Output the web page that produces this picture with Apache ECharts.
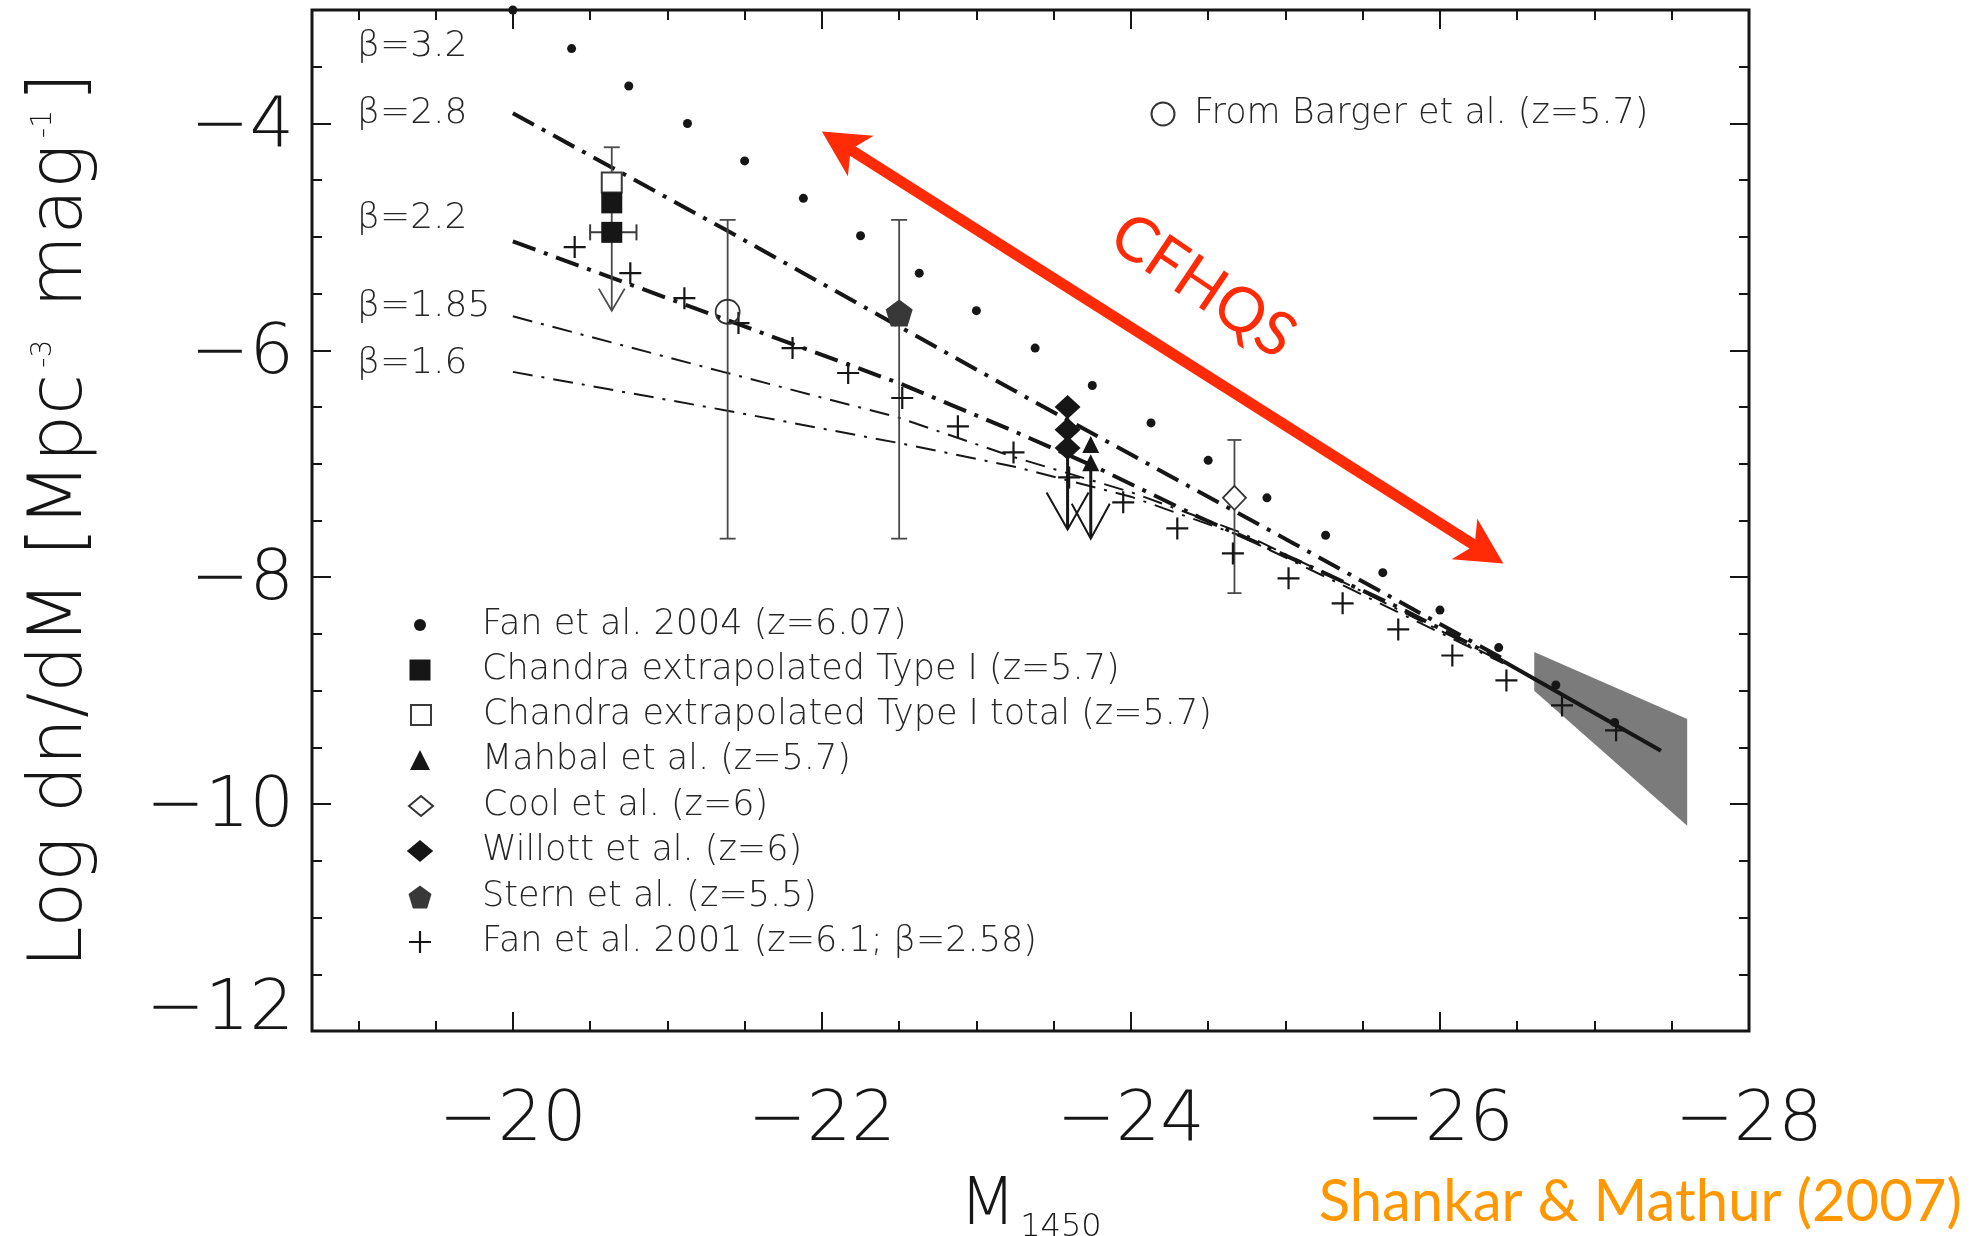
<!DOCTYPE html>
<html>
<head>
<meta charset="utf-8">
<script src="https://cdn.jsdelivr.net/npm/echarts@6/dist/echarts.min.js"></script>
<style>
html,body{margin:0;padding:0;background:#fff;}
#chart{width:1976px;height:1236px;}
</style>
</head>
<body>
<div id="chart"></div>
<script>
// ================= DATA =================
// Fan et al. 2004 (z=6.07) — the beta=3.2 dotted model [M1450, log dn/dM]
const fan2004 = [[-20.00,-3.00],[-20.38,-3.34],[-20.75,-3.67],[-21.13,-4.00],[-21.50,-4.33],
  [-21.88,-4.66],[-22.25,-4.99],[-22.63,-5.32],[-23.00,-5.65],[-23.38,-5.98],[-23.75,-6.31],
  [-24.13,-6.64],[-24.50,-6.97],[-24.88,-7.30],[-25.26,-7.63],[-25.63,-7.96],[-26.00,-8.29],
  [-26.38,-8.62],[-26.75,-8.95],[-27.13,-9.28]];
// Fan et al. 2001 (z=6.1; beta=2.58) crosses
const fan2001 = [[-20.40,-5.09],[-20.76,-5.32],[-21.11,-5.54],[-21.46,-5.76],[-21.81,-5.98],
  [-22.17,-6.20],[-22.52,-6.42],[-22.88,-6.67],[-23.24,-6.90],[-23.60,-7.12],[-23.95,-7.34],
  [-24.30,-7.57],[-24.66,-7.79],[-25.02,-8.01],[-25.37,-8.23],[-25.73,-8.46],[-26.08,-8.69],
  [-26.43,-8.91],[-26.79,-9.13],[-27.14,-9.35]];
const chandraType1 = [[-20.64,-4.70],[-20.64,-4.96]];
const chandraTotal = [[-20.64,-4.52]];
const chandraLimit = [[-20.64,-4.21,-5.65]];        // [M, top, arrow tip]
const chandraXErr = [[-4.96,-20.50,-20.80]];         // [logphi, M bright, M faint]
const mahbal = [[-23.74,-6.83],[-23.74,-6.99]];
const mahbalLimit = [[-23.74,-6.99,-7.66]];
const cool = [[-24.67,-7.30]];
const coolErr = [[-24.67,-8.14,-6.79]];              // [M, low, high]
const willott = [[-23.59,-6.50],[-23.59,-6.70],[-23.59,-6.86]];
const willottLimit = [[-23.59,-6.86,-7.58]];
const stern = [[-22.50,-5.67]];
const sternErr = [[-22.50,-7.66,-4.85]];
const barger = [[-21.39,-5.66]];
const bargerErr = [[-21.39,-7.66,-4.85]];
// model luminosity functions (dash-dot)
const beta28 = [[-20.00,-3.91],[-21.38,-4.94],[-23.37,-6.45],[-25.05,-7.70],[-26.41,-8.72]];
const beta22 = [[-20.00,-5.04],[-21.42,-5.75],[-22.50,-6.29],[-23.22,-6.70],[-23.79,-7.04],
  [-24.44,-7.47],[-25.20,-7.93],[-25.74,-8.27],[-26.41,-8.74]];
const beta185 = [[-20.00,-5.70],[-21.36,-6.19],[-22.49,-6.59],[-23.24,-6.94],[-24.00,-7.25],
  [-24.70,-7.60],[-25.40,-8.06],[-26.41,-8.75]];
const beta16 = [[-20.00,-6.19],[-21.38,-6.53],[-22.51,-6.82],[-23.26,-7.03],[-24.00,-7.29],
  [-24.70,-7.63],[-25.40,-8.09],[-26.41,-8.76]];
const brightFit = [[-26.41,-8.74],[-27.43,-9.53]];
const cfhqsWedge = [[-26.61,-8.66],[-27.60,-9.25],[-27.60,-10.19],[-26.61,-9.00]];
const cfhqsArrow = [[-22.00,-4.07],[-26.41,-7.88]];
// axis tick labels and model labels
const xLabelValues = [-20,-22,-24,-26,-28];
const yLabelValues = [-4,-6,-8,-10,-12];
const betaLabels = ['3.2','2.8','2.2','1.85','1.6'];

// ================= STYLE =================
const FONT = "'DejaVu Sans', sans-serif";
const LIGHT = 200;
const GILL = "Lato, 'Open Sans', sans-serif";
const INK = '#161616';
const TXT = '#262626';
const RED = '#ff2a06';
const ORANGE = '#ff9800';
const PLUS = 'path://M9,0H11V9H20V11H11V20H9V11H0V9H9Z';
const PENTA = 'path://M10,0L20,7.4L16.2,20L3.8,20L0,7.4Z';
const SQUARE = 'path://M0,0H10V10H0Z';
const TRI = 'path://M5,0L10,10L0,10Z';
const DIAM = 'path://M6,0L12,5L6,10L0,5Z';
const MINUS = '\u2212';
const TICK_FS = 70;

function fmtTick(list) {
  return function (v) {
    if (list.indexOf(v) < 0) return '';
    const s = MINUS + Math.abs(v);
    return v === -12 ? '{lo|' + s + '}' : s;
  };
}
const labelStyle = {fontFamily: FONT, fontWeight: LIGHT, fontSize: TICK_FS, lineHeight: TICK_FS, color: INK};

function mkX(pos, interval, len, main) {
  const ax = {
    type: 'value', min: -28, max: -18.7, inverse: true, interval: interval, position: pos,
    axisLine: {show: false}, splitLine: {show: false},
    axisTick: {show: true, inside: true, length: len, lineStyle: {color: INK, width: 2}},
    axisLabel: Object.assign({show: main, margin: 56, formatter: fmtTick(xLabelValues)}, labelStyle)
  };
  if (main) {
    ax.name = '{m|M}{s|1450}';
    ax.nameLocation = 'middle';
    ax.nameGap = 139;
    ax.nameTextStyle = {color: INK, fontFamily: FONT, fontWeight: LIGHT, fontSize: 66,
      rich: {m: {fontFamily: FONT, fontWeight: LIGHT, fontSize: 66, color: INK},
             s: {fontFamily: FONT, fontSize: 32, color: INK, padding: [42, 0, 0, 4]}}};
  }
  return ax;
}
function mkY(pos, interval, len, main) {
  const ax = {
    type: 'value', min: -12, max: -3, interval: interval, position: pos,
    axisLine: {show: false}, splitLine: {show: false},
    axisTick: {show: true, inside: true, length: len, lineStyle: {color: INK, width: 2}},
    axisLabel: Object.assign({show: main, margin: 18, padding: [8, 0, 0, 0], formatter: fmtTick(yLabelValues),
      rich: {lo: {fontFamily: FONT, fontWeight: LIGHT, fontSize: TICK_FS, color: INK, padding: [0, 0, 48, 0]}}}, labelStyle)
  };
  if (main) {
    ax.name = '{a|Log dn/dM [Mpc}{b|-3}{a| mag}{b|-1}{a|]}';
    ax.nameLocation = 'middle';
    ax.nameGap = 213;
    ax.nameTextStyle = {color: INK, fontFamily: FONT, fontWeight: LIGHT, fontSize: 75,
      rich: {a: {fontFamily: FONT, fontWeight: LIGHT, fontSize: 75, color: INK},
             b: {fontFamily: FONT, fontWeight: LIGHT, fontSize: 28, color: INK, padding: [0, 8, 36, 6]}}};
  }
  return ax;
}

// ---------- custom renderers ----------
function errorBars(data, capHalf, color, width) {
  return {
    type: 'custom', data: data, z: 4, silent: true, clip: false,
    renderItem: function (params, api) {
      const x = api.value(0), lo = api.value(1), hi = api.value(2);
      const a = api.coord([x, hi]), b = api.coord([x, lo]);
      const st = {stroke: color, lineWidth: width, fill: null};
      return {type: 'group', children: [
        {type: 'line', shape: {x1: a[0], y1: a[1], x2: b[0], y2: b[1]}, style: st},
        {type: 'line', shape: {x1: a[0] - capHalf, y1: a[1], x2: a[0] + capHalf, y2: a[1]}, style: st},
        {type: 'line', shape: {x1: b[0] - capHalf, y1: b[1], x2: b[0] + capHalf, y2: b[1]}, style: st}
      ]};
    }
  };
}
function xErrorBars(data, capHalf, color, width) {
  return {
    type: 'custom', data: data, z: 4, silent: true, clip: false,
    renderItem: function (params, api) {
      const y = api.value(0), m1 = api.value(1), m2 = api.value(2);
      const a = api.coord([m1, y]), b = api.coord([m2, y]);
      const st = {stroke: color, lineWidth: width, fill: null};
      return {type: 'group', children: [
        {type: 'line', shape: {x1: a[0], y1: a[1], x2: b[0], y2: b[1]}, style: st},
        {type: 'line', shape: {x1: a[0], y1: a[1] - capHalf, x2: a[0], y2: a[1] + capHalf}, style: st},
        {type: 'line', shape: {x1: b[0], y1: b[1] - capHalf, x2: b[0], y2: b[1] + capHalf}, style: st}
      ]};
    }
  };
}
function upperLimits(data, headHalf, headLen, color, lineW, headW, capHalf) {
  return {
    type: 'custom', data: data, z: 4, silent: true, clip: false,
    renderItem: function (params, api) {
      const x = api.value(0), top = api.value(1), tip = api.value(2);
      const a = api.coord([x, top]), b = api.coord([x, tip]);
      const kids = [
        {type: 'line', shape: {x1: a[0], y1: a[1], x2: b[0], y2: b[1] - 1}, style: {stroke: color, lineWidth: lineW}},
        {type: 'polyline', shape: {points: [[b[0] - headHalf, b[1] - headLen], [b[0], b[1]], [b[0] + headHalf, b[1] - headLen]]},
         style: {stroke: color, lineWidth: headW, fill: null}}
      ];
      if (capHalf) kids.push({type: 'line', shape: {x1: a[0] - capHalf, y1: a[1], x2: a[0] + capHalf, y2: a[1]},
        style: {stroke: color, lineWidth: lineW}});
      return {type: 'group', children: kids};
    }
  };
}

function modelLine(data, width, dash) {
  return {type: 'line', data: data, z: 3, symbol: 'none', silent: true, smooth: false,
    lineStyle: {color: INK, width: width, type: dash, cap: 'butt'}};
}
function points(name, data, symbol, size, fill, stroke, bw, z) {
  return {type: 'scatter', name: name, data: data, symbol: symbol, symbolSize: size, z: z || 5,
    clip: false, silent: true,
    itemStyle: {color: fill, borderColor: stroke || fill, borderWidth: bw || 0, opacity: 1}};
}

// ---------- legends (one component per row, icon centred at x=420, text from x=482) ----------
const legendRows = [
  {name: 'Fan et al. 2004 (z=6.07)', icon: 'circle', size: 12},
  {name: 'Chandra extrapolated Type I (z=5.7)', icon: SQUARE, size: 21},
  {name: 'Chandra extrapolated Type I total (z=5.7)', icon: SQUARE, size: 20},
  {name: 'Mahbal et al. (z=5.7)', icon: TRI, size: 20},
  {name: 'Cool et al. (z=6)', icon: DIAM, size: 20},
  {name: 'Willott et al. (z=6)', icon: DIAM, size: 22},
  {name: 'Stern et al. (z=5.5)', icon: PENTA, size: 23},
  {name: 'Fan et al. 2001 (z=6.1; β=2.58)', icon: PLUS, size: 22}
];
const legendRowY = [625, 670, 715, 760, 806, 851, 897, 942];
const legendText = {fontFamily: FONT, fontWeight: LIGHT, fontSize: 35, lineHeight: 36, color: TXT};
function iconWidth(r) { return r.icon === DIAM ? r.size * 1.2 : r.size; }
const legends = legendRows.map(function (r, i) {
  return {data: [{name: r.name, icon: r.icon}], left: 420 - iconWidth(r) / 2, top: legendRowY[i] - 18,
    itemWidth: 114, itemHeight: r.size, padding: 0, selectedMode: false, orient: 'vertical',
    textStyle: legendText};
});
legends.push({data: [{name: 'From Barger et al. (z=5.7)', icon: 'circle'}], left: 1162 - 11.5, top: 114 - 18,
  itemWidth: 52, itemHeight: 23, padding: 0, selectedMode: false, textStyle: legendText});

// ---------- annotations ----------
const betaY = [47, 114, 219, 307, 364];
const graphics = betaLabels.map(function (t, i) {
  return {type: 'text', x: 357, y: betaY[i], silent: true,
    style: {text: 'β=' + t, fill: TXT, fontFamily: FONT, fontWeight: LIGHT, fontSize: 36,
      align: 'left', verticalAlign: 'middle', textAlign: 'left', textVerticalAlign: 'middle'}};
});
graphics.push({type: 'text', x: 1203, y: 286, rotation: -34 * Math.PI / 180, silent: true,
  style: {text: 'CFHQS', fill: RED, fontFamily: GILL, fontSize: 62, align: 'center', verticalAlign: 'middle',
    textAlign: 'center', textVerticalAlign: 'middle'}});
graphics.push({type: 'text', x: 1962, y: 1202, silent: true,
  style: {text: 'Shankar & Mathur (2007)', fill: ORANGE, fontFamily: GILL, fontSize: 58,
    align: 'right', verticalAlign: 'middle', textAlign: 'right', textVerticalAlign: 'middle'}});

const series = [
  // grey CFHQS wedge
  {type: 'custom', z: 1, silent: true, clip: false,
   data: [[].concat.apply([], cfhqsWedge)],
   renderItem: function (params, api) {
     const pts = [];
     for (let k = 0; k < 4; k++) pts.push(api.coord([api.value(2 * k), api.value(2 * k + 1)]));
     return {type: 'polygon', shape: {points: pts}, style: {fill: '#7b7b7b'}};
   }},
  modelLine(beta28, 4, [24, 9, 4, 9]),
  modelLine(beta22, 4, [24, 9, 4, 9]),
  modelLine(beta185, 2, [20, 9, 3, 9]),
  modelLine(beta16, 2, [20, 9, 3, 9]),
  modelLine(brightFit, 4, 'solid'),
  errorBars(bargerErr, 8, '#4a4a4a', 1.8),
  errorBars(sternErr, 8, '#4a4a4a', 1.8),
  errorBars(coolErr, 7, '#4a4a4a', 1.8),
  xErrorBars(chandraXErr, 8, '#3a3a3a', 2),
  upperLimits(chandraLimit, 13, 22, '#4a4a4a', 1.8, 1.8, 8),
  upperLimits(willottLimit, 21, 37, INK, 3, 2, 0),
  upperLimits(mahbalLimit, 19, 35, INK, 3, 2, 0),
  points('Fan et al. 2004 (z=6.07)', fan2004, 'circle', 9, INK),
  points('Chandra extrapolated Type I total (z=5.7)', chandraTotal, 'rect', 20, '#ffffff', '#3a3a3a', 2),
  points('Chandra extrapolated Type I (z=5.7)', chandraType1, 'rect', 21, INK, INK, 0, 6),
  points('Mahbal et al. (z=5.7)', mahbal, 'triangle', 17, INK),
  points('Cool et al. (z=6)', cool, 'diamond', [23, 24], '#ffffff', '#333333', 1.8),
  points('Willott et al. (z=6)', willott, 'diamond', [26, 24], INK),
  points('Stern et al. (z=5.5)', stern, PENTA, [27, 27], '#383838'),
  points('Fan et al. 2001 (z=6.1; β=2.58)', fan2001, PLUS, 22, INK),
  points('From Barger et al. (z=5.7)', barger, 'circle', 24, 'rgba(255,255,255,0)', '#333333', 1.8),
  // double-headed CFHQS arrow
  {type: 'custom', z: 7, silent: true, clip: false,
   data: [[cfhqsArrow[0][0], cfhqsArrow[0][1], cfhqsArrow[1][0], cfhqsArrow[1][1]]],
   renderItem: function (params, api) {
     const p1 = api.coord([api.value(0), api.value(1)]);
     const p2 = api.coord([api.value(2), api.value(3)]);
     const dx = p2[0] - p1[0], dy = p2[1] - p1[1], len = Math.hypot(dx, dy);
     const ux = dx / len, uy = dy / len, nx = -uy, ny = ux;
     const L = 46, W = 24, N = 12;
     function head(t, s) {
       const bx = t[0] - s * ux * L, by = t[1] - s * uy * L;
       const mx = t[0] - s * ux * (L - N), my = t[1] - s * uy * (L - N);
       return {type: 'polygon', shape: {points: [t, [bx + nx * W, by + ny * W], [mx, my], [bx - nx * W, by - ny * W]]},
         style: {fill: RED}};
     }
     const off = L - N - 2;
     return {type: 'group', children: [
       {type: 'line', shape: {x1: p1[0] + ux * off, y1: p1[1] + uy * off, x2: p2[0] - ux * off, y2: p2[1] - uy * off},
        style: {stroke: RED, lineWidth: 11, lineCap: 'butt'}},
       head(p2, 1), head(p1, -1)
     ]};
   }}
];

const option = {
  animation: false,
  backgroundColor: '#ffffff',
  textStyle: {fontFamily: FONT},
  grid: {left: 312, right: 227, top: 10, bottom: 205, show: true, borderColor: INK, borderWidth: 3,
    backgroundColor: 'rgba(0,0,0,0)', containLabel: false, outerBoundsMode: 'none'},
  xAxis: [mkX('bottom', 2, 19, true), mkX('bottom', 0.5, 10, false), mkX('top', 2, 19, false), mkX('top', 0.5, 10, false)],
  yAxis: [mkY('left', 2, 19, true), mkY('left', 0.5, 10, false), mkY('right', 2, 19, false), mkY('right', 0.5, 10, false)],
  legend: legends,
  graphic: graphics,
  series: series
};

const chart = echarts.init(document.getElementById('chart'), null, {renderer: 'canvas', width: 1976, height: 1236});
chart.setOption(option);
</script>
</body>
</html>
